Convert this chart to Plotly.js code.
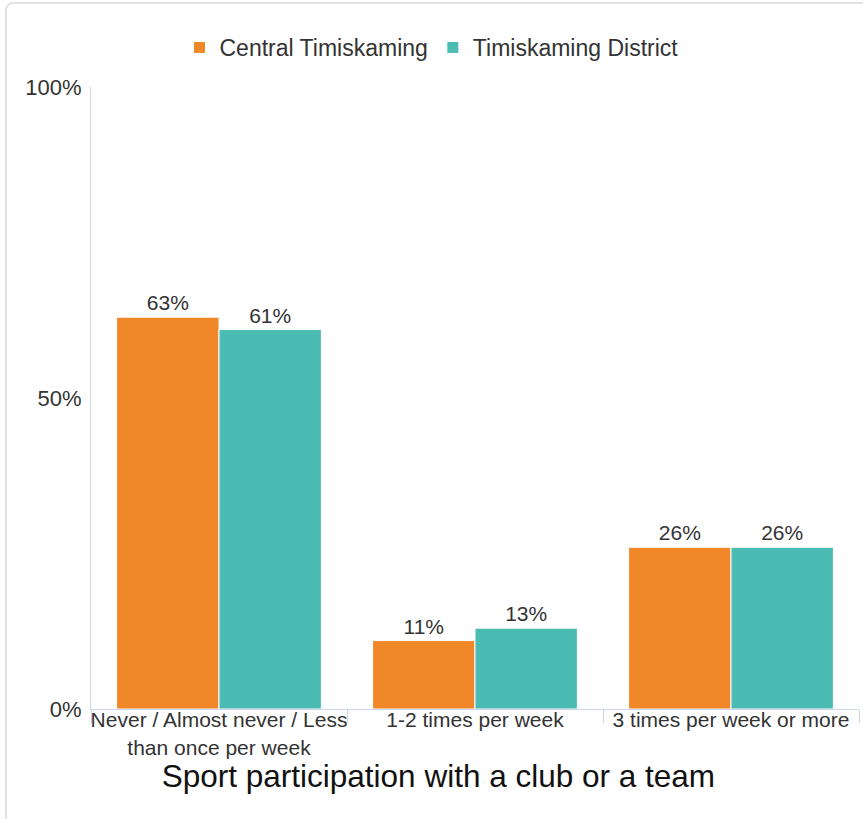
<!DOCTYPE html>
<html>
<head>
<meta charset="utf-8">
<script src="https://cdn.plot.ly/plotly-3.0.1.min.js"></script>
<style>
  html, body { margin: 0; padding: 0; background: #ffffff; overflow: hidden; }
  #frame { position: absolute; left: 5px; top: 2px; width: 900px; height: 900px;
           border: 2px solid #e2e2e2; border-radius: 8px; pointer-events: none; z-index: 2; }
  #chart { position: absolute; left: 0; top: 0; width: 863px; height: 819px; }
</style>
</head>
<body>
<div id="chart"></div>
<div id="frame"></div>
<script>
const categories = ["Never / Almost never / Less<br>than once per week", "1-2 times per week", "3 times per week or more"];
const seriesNames = ["Central Timiskaming", "Timiskaming District"];
const centralValues = [63, 11, 26];
const districtValues = [61, 13, 26];
const yTickVals = [0, 50, 100];
const yTickText = ["0%", "50%", "100%"];
const colors = ["#F0882A", "#4BBCB4"];

const FONT = "Liberation Sans, Arial, sans-serif";

function barTrace(name, values, color) {
  return {
    type: "bar",
    name: name,
    x: categories,
    y: values,
    marker: { color: color, line: { color: "#ffffff", width: 1 } },
    texttemplate: "%{y}%",
    textposition: "outside",
    constraintext: "none",
    cliponaxis: false,
    outsidetextfont: { family: FONT, size: 21, color: "#333333" },
    hoverinfo: "x+y"
  };
}

const data = [
  barTrace(seriesNames[0], centralValues, colors[0]),
  barTrace(seriesNames[1], districtValues, colors[1])
];

const layout = {
  width: 863,
  height: 819,
  margin: { l: 91, r: 4, t: 87, b: 110 },
  paper_bgcolor: "#ffffff",
  plot_bgcolor: "#ffffff",
  font: { family: FONT, color: "#333333" },
  barmode: "group",
  bargap: 0.2,
  bargroupgap: 0,
  showlegend: true,
  legend: {
    orientation: "h",
    x: 0.5, xref: "container", xanchor: "center",
    y: 1 - 26 / 819, yref: "container", yanchor: "top",
    font: { family: FONT, size: 23, color: "#333333" },
    itemwidth: 30,
    traceorder: "normal"
  },
  title: {
    text: "Sport participation with a club or a team",
    font: { family: FONT, size: 31.5, color: "#111111" },
    x: 0.508, xref: "container", xanchor: "center",
    y: 1 - 776 / 819, yref: "container", yanchor: "middle"
  },
  xaxis: {
    type: "category",
    showline: true,
    linecolor: "#ccd6eb",
    linewidth: 1,
    ticks: "outside",
    tickson: "boundaries",
    ticklen: 13,
    tickcolor: "#ccd6eb",
    tickwidth: 1,
    tickangle: 0,
    ticklabelstandoff: -8,
    showgrid: false,
    zeroline: false,
    tickfont: { family: FONT, size: 21, color: "#333333" },
    fixedrange: true
  },
  yaxis: {
    range: [0, 100],
    tickvals: yTickVals,
    ticktext: yTickText,
    showline: true,
    linecolor: "#ccd6eb",
    linewidth: 1,
    ticks: "",
    showgrid: false,
    zeroline: false,
    ticklabelstandoff: 4,
    tickfont: { family: FONT, size: 22, color: "#333333" },
    fixedrange: true
  }
};

Plotly.newPlot("chart", data, layout, { displayModeBar: false, staticPlot: true });
</script>
</body>
</html>
